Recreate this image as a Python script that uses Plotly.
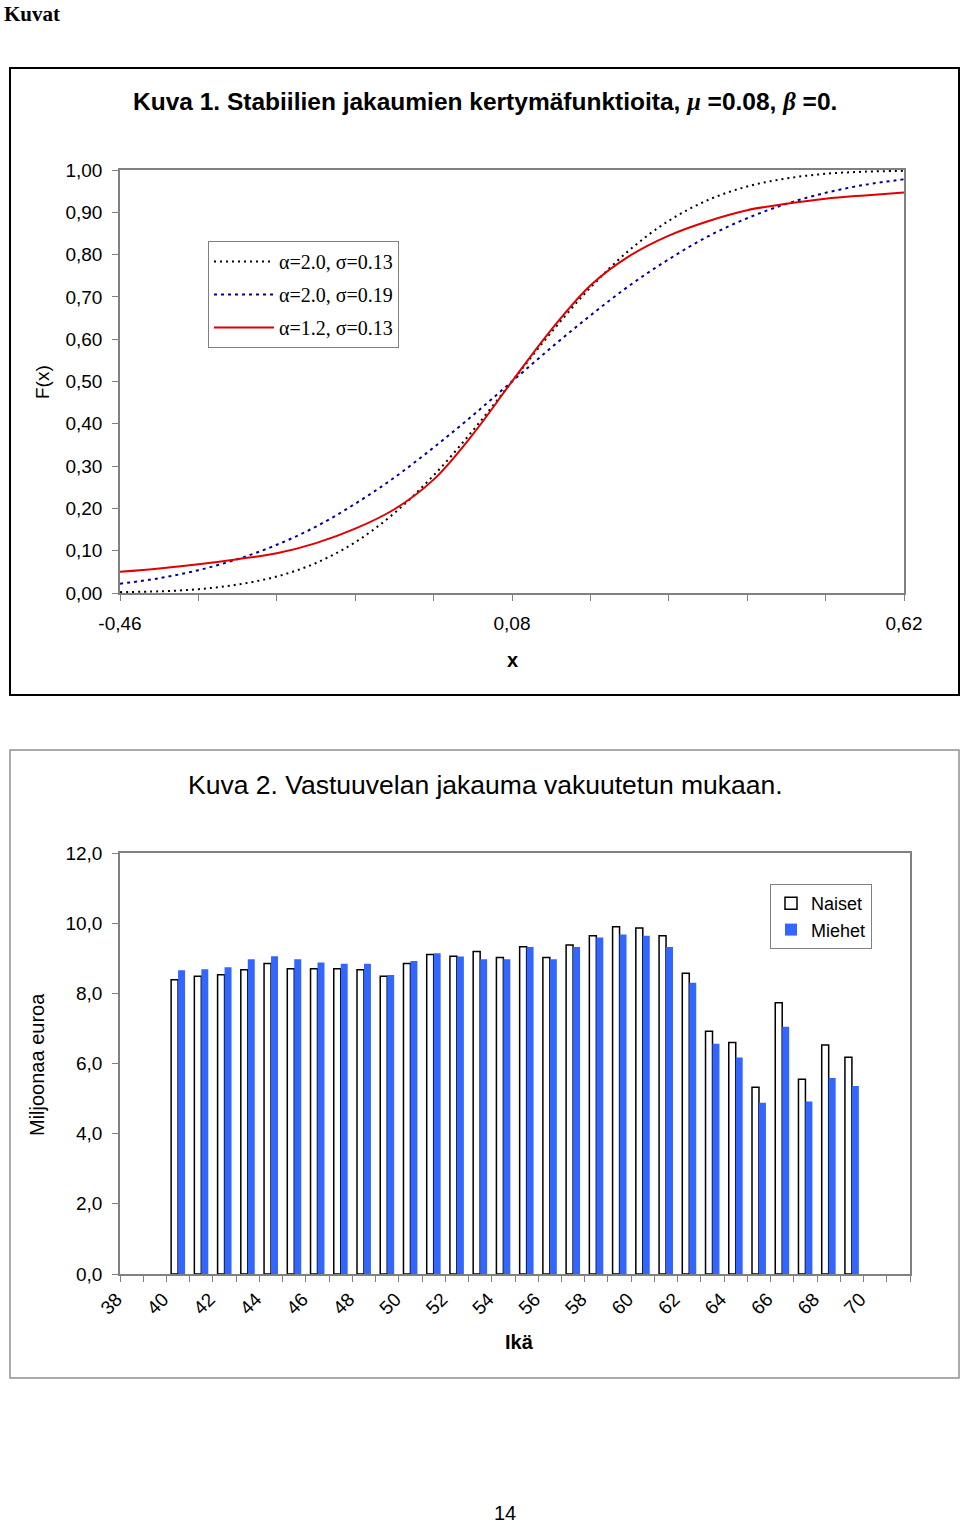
import plotly.graph_objects as go

# ---------------- data: Kuva 1 (CDF curves) ----------------
x_vals = [-0.46, -0.406, -0.352, -0.298, -0.244, -0.19, -0.136, -0.082, -0.028, 0.026,
          0.08, 0.134, 0.188, 0.242, 0.296, 0.35, 0.404, 0.458, 0.512, 0.566, 0.62]
f_a20_s013 = [0.002, 0.004, 0.009, 0.020, 0.039, 0.071, 0.120, 0.189, 0.278, 0.384,
              0.500, 0.616, 0.722, 0.811, 0.880, 0.929, 0.961, 0.980, 0.991, 0.996, 0.998]
f_a20_s019 = [0.022, 0.035, 0.054, 0.080, 0.114, 0.157, 0.211, 0.273, 0.344, 0.420,
              0.500, 0.580, 0.656, 0.727, 0.789, 0.843, 0.886, 0.920, 0.946, 0.965, 0.978]
f_a12_s013 = [0.050, 0.058, 0.068, 0.080, 0.094, 0.118, 0.152, 0.198, 0.268, 0.375,
              0.500, 0.622, 0.727, 0.797, 0.845, 0.879, 0.905, 0.920, 0.932, 0.940, 0.947]
curve_names = ["α=2.0, σ=0.13", "α=2.0, σ=0.19", "α=1.2, σ=0.13"]
x_tick_vals = [-0.46, 0.08, 0.62]
x_tick_text = ["-0,46", "0,08", "0,62"]

# ---------------- data: Kuva 2 (bars) ----------------
ages = list(range(40, 70))
naiset = [8.39, 8.49, 8.53, 8.67, 8.85, 8.70, 8.70, 8.70, 8.67, 8.49,
          8.85, 9.11, 9.06, 9.19, 9.02, 9.33, 9.02, 9.38, 9.64, 9.90,
          9.86, 9.64, 8.57, 6.92, 6.60, 5.32, 7.73, 5.55, 6.53, 6.18]
miehet = [8.66, 8.69, 8.74, 8.97, 9.06, 8.97, 8.88, 8.84, 8.84, 8.52,
          8.92, 9.14, 9.05, 8.97, 8.97, 9.32, 8.97, 9.32, 9.59, 9.68,
          9.64, 9.32, 8.30, 6.56, 6.17, 4.88, 7.05, 4.92, 5.59, 5.36]
age_tick_vals = list(range(38, 71, 2))
age_tick_text = [str(a) for a in age_tick_vals]

W, H = 960, 1524
def px(x):
    return x / W
def py(y):
    return 1 - y / H

SANS = "Liberation Sans, Arial, sans-serif"
SERIF = "Liberation Serif, Times New Roman, serif"
AX = "#808080"

fig = go.Figure()

fig.add_trace(go.Scatter(x=x_vals, y=f_a20_s013, mode="lines", name=curve_names[0],
                         line=dict(color="black", width=2, dash="2px,4px", shape="spline"),
                         xaxis="x", yaxis="y", legend="legend", legendgroup="a"))
fig.add_trace(go.Scatter(x=x_vals, y=f_a20_s019, mode="lines", name=curve_names[1],
                         line=dict(color="#000099", width=2, dash="3px,4px", shape="spline"),
                         xaxis="x", yaxis="y", legend="legend", legendgroup="b"))
fig.add_trace(go.Scatter(x=x_vals, y=f_a12_s013, mode="lines", name=curve_names[2],
                         line=dict(color="#E00000", width=2, shape="spline"),
                         xaxis="x", yaxis="y", legend="legend", legendgroup="c"))

fig.add_trace(go.Bar(x=ages, y=naiset, name="Naiset", xaxis="x2", yaxis="y2",
                     marker=dict(color="white", line=dict(color="black", width=1.5)),
                     legend="legend2"))
fig.add_trace(go.Bar(x=ages, y=miehet, name="Miehet", xaxis="x2", yaxis="y2",
                     marker=dict(color="#3366FF", line=dict(width=0)),
                     legend="legend2"))

tickfont = dict(family=SANS, size=19, color="black")

fig.update_layout(
    width=W, height=H, autosize=False,
    margin=dict(l=0, r=0, t=0, b=0, autoexpand=False),
    paper_bgcolor="white", plot_bgcolor="white",
    separators=",.",
    barmode="group", bargap=0.4, bargroupgap=0.0,
    showlegend=True,
    xaxis=dict(domain=[px(120), px(904)], anchor="y", range=[-0.46, 0.62], automargin=False,
               tickmode="array", tickvals=x_tick_vals, ticktext=x_tick_text,
               ticks="outside", ticklen=6, tickcolor=AX, tickfont=tickfont,
               ticklabelstandoff=6,
               minor=dict(tickmode="linear", tick0=-0.46, dtick=0.108, ticks="outside",
                          ticklen=6, tickcolor=AX, showgrid=False),
               showline=True, linecolor=AX, linewidth=1.5, mirror=True,
               showgrid=False, zeroline=False),
    yaxis=dict(domain=[py(593), py(170)], anchor="x", range=[0, 1], dtick=0.1, automargin=False,
               tickformat=".2f", ticks="outside", ticklen=6, tickcolor=AX, tickfont=tickfont,
               ticklabelstandoff=6,
               showline=True, linecolor=AX, linewidth=1.5, mirror=True,
               showgrid=False, zeroline=False),
    xaxis2=dict(domain=[px(120), px(910)], anchor="y2", range=[37.5, 71.5], automargin=False,
                tickmode="array", tickvals=age_tick_vals, ticktext=age_tick_text,
                tickangle=-45, ticks="", tickfont=tickfont, ticklabelstandoff=5,
                ticklabelshift=-15,
                minor=dict(tickmode="linear", tick0=37.5, dtick=1, ticks="outside",
                           ticklen=6, tickcolor=AX, showgrid=False),
                showline=True, linecolor=AX, linewidth=1.5, mirror=True,
                showgrid=False, zeroline=False),
    yaxis2=dict(domain=[py(1274), py(853)], anchor="x2", range=[0, 12], dtick=2, automargin=False,
                tickformat=".1f", ticks="outside", ticklen=6, tickcolor=AX, tickfont=tickfont,
                ticklabelstandoff=6,
                showline=True, linecolor=AX, linewidth=1.5, mirror=True,
                showgrid=False, zeroline=False),
    legend=dict(x=px(208), y=py(241), xanchor="left", yanchor="top",
                bgcolor="white", bordercolor=AX, borderwidth=1,
                font=dict(family=SERIF, size=20, color="black"),
                traceorder="grouped", tracegroupgap=4, itemwidth=60),
    legend2=dict(x=px(770), y=py(884), xanchor="left", yanchor="top",
                 bgcolor="white", bordercolor=AX, borderwidth=1,
                 font=dict(family=SANS, size=18, color="black"), itemwidth=30),
)

# frames around the two charts
fig.add_shape(type="rect", xref="paper", yref="paper",
              x0=px(10), x1=px(959), y0=py(695), y1=py(68),
              line=dict(color="black", width=2), layer="below")
fig.add_shape(type="rect", xref="paper", yref="paper",
              x0=px(10), x1=px(959), y0=py(1378), y1=py(750),
              line=dict(color="#909090", width=1.5), layer="below")

def note(text, x, y, size, family=SANS, angle=0, xanchor="center", yanchor="middle"):
    fig.add_annotation(text=text, xref="paper", yref="paper", x=px(x), y=py(y),
                       xanchor=xanchor, yanchor=yanchor, showarrow=False, textangle=angle,
                       font=dict(family=family, size=size, color="black"))

note("<b>Kuvat</b>", 2, 0, 21, family=SERIF, xanchor="left", yanchor="top")
note("<b>Kuva 1. Stabiilien jakaumien kertymäfunktioita, "
     "<span style='font-family:Liberation Serif'><i>μ</i></span> =0.08, "
     "<span style='font-family:Liberation Serif'><i>β</i></span> =0.</b>", 485, 102, 24.5)
note("Kuva 2. Vastuuvelan jakauma vakuutetun mukaan.", 485, 785, 26.5)
note("F(x)", 42, 382, 19, angle=-90)
note("<b>x</b>", 512, 660, 20)
note("Miljoonaa euroa", 37, 1065, 20, angle=-90)
note("<b>Ikä</b>", 519, 1342, 20)
note("14", 505, 1513, 20)

fig.write_html("out.html",
               config={"displayModeBar": False},
               post_script="document.body.style.margin='0';"
                           "document.body.style.padding='0';"
                           "document.body.style.overflow='hidden';")
